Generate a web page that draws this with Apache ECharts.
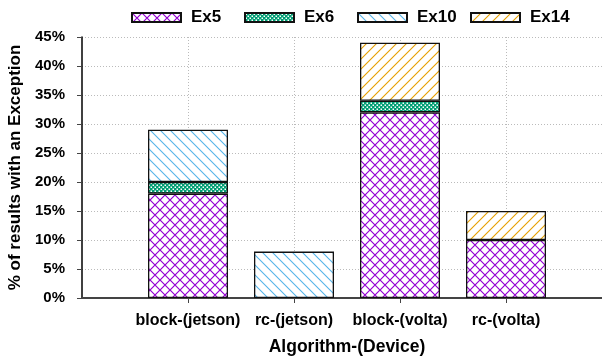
<!DOCTYPE html>
<html>
<head>
<meta charset="utf-8">
<script src="https://cdn.jsdelivr.net/npm/echarts@6/dist/echarts.min.js"></script>
<style>
  html, body { margin: 0; padding: 0; background: #fff; }
  #chart { width: 602px; height: 361px; }
</style>
</head>
<body>
<div id="chart"></div>
<script>
// Algorithm-device pairs; blank slots pad the range on both sides
const categories = ['', 'block-(jetson)', 'rc-(jetson)', 'block-(volta)', 'rc-(volta)', ''];
// Stacked exception shares in percent, one entry per slot
const ex5  = [null, 18, null, 32, 10, null];
const ex6  = [null, 2, null, 2, null, null];
const ex10 = [null, 9, 8, null, null, null];
const ex14 = [null, null, null, 10, 5, null];
const yTicks = [0, 5, 10, 15, 20, 25, 30, 35, 40, 45];

// Hatch fills drawn on small tiles
function tile(w, h, draw) {
  const c = document.createElement('canvas');
  c.width = w; c.height = h;
  const g = c.getContext('2d');
  g.fillStyle = '#fff';
  g.fillRect(0, 0, w, h);
  draw(g);
  return { image: c, repeat: 'repeat' };
}
const crossPurple = tile(10, 10, g => {
  g.strokeStyle = '#9400D3'; g.lineWidth = 1.2;
  g.beginPath();
  g.moveTo(-1, -1); g.lineTo(11, 11);
  g.moveTo(11, -1); g.lineTo(-1, 11);
  g.stroke();
});
const checkGreen = tile(4, 4, g => {
  g.fillStyle = '#009E73'; g.fillRect(0, 0, 4, 4);
  g.fillStyle = '#fff';
  g.fillRect(0.5, 0.5, 1.5, 1.5);
  g.fillRect(2.5, 2.5, 1.5, 1.5);
});
const backBlue = tile(10, 10, g => {
  g.strokeStyle = '#56B4E9'; g.lineWidth = 1.1;
  g.beginPath();
  g.moveTo(-1, -1); g.lineTo(11, 11);
  g.moveTo(-1, 9); g.lineTo(1, 11);
  g.moveTo(9, -1); g.lineTo(11, 1);
  g.stroke();
});
const slashOrange = tile(10, 10, g => {
  g.strokeStyle = '#E69F00'; g.lineWidth = 1.1;
  g.beginPath();
  g.moveTo(-1, 11); g.lineTo(11, -1);
  g.moveTo(-1, 1); g.lineTo(1, -1);
  g.moveTo(9, 11); g.lineTo(11, 9);
  g.stroke();
});

const font = 'Liberation Sans, Arial, Helvetica, sans-serif';

function barSeries(name, values, fill) {
  return {
    name: name,
    type: 'bar',
    stack: 'total',
    barWidth: 80,
    data: values.map(v => (v == null ? '-' : v)),
    itemStyle: { color: fill, borderColor: '#111', borderWidth: 1.3 },
    emphasis: { disabled: true }
  };
}

const legendLefts = [131, 244, 357, 470];
const legendNames = ['Ex5', 'Ex6', 'Ex10', 'Ex14'];
const legends = legendNames.map((n, i) => ({
  data: [n],
  left: legendLefts[i],
  top: 9,
  padding: 0,
  orient: 'horizontal',
  icon: 'rect',
  itemWidth: 49,
  itemHeight: 9,
  selectedMode: false,
  textStyle: { fontFamily: font, fontWeight: 'bold', fontSize: 17, color: '#000', padding: [0, 0, 0, 5] }
}));

const inner = (i) => i > 0 && i < categories.length - 1;

const chart = echarts.init(document.getElementById('chart'), null, { renderer: 'canvas' });
chart.setOption({
  animation: false,
  backgroundColor: '#fff',
  legend: legends,
  grid: { left: 82, top: 37, right: -10, bottom: 63, containLabel: false, outerBoundsMode: 'none' },
  xAxis: {
    type: 'category',
    data: categories,
    boundaryGap: false,
    name: 'Algorithm-(Device)',
    nameLocation: 'middle',
    nameGap: 40,
    nameTextStyle: { fontFamily: font, fontWeight: 'bold', fontSize: 17.5, color: '#000' },
    axisLine: { show: true, onZero: false, lineStyle: { color: '#444', width: 2 } },
    axisTick: { show: true, length: 5, interval: (i) => inner(i), lineStyle: { color: '#444', width: 1 } },
    axisLabel: {
      margin: 15,
      interval: 0,
      fontFamily: font, fontWeight: 'bold', fontSize: 16, color: '#000'
    },
    splitLine: { show: true, interval: (i) => inner(i), lineStyle: { color: '#bbb', type: [1, 2], width: 1 } }
  },
  yAxis: {
    type: 'value',
    min: yTicks[0],
    max: yTicks[yTicks.length - 1],
    interval: 5,
    name: '% of results with an Exception',
    nameLocation: 'middle',
    nameGap: 58,
    nameTextStyle: { fontFamily: font, fontWeight: 'bold', fontSize: 17, color: '#000' },
    axisLine: { show: true, onZero: false, lineStyle: { color: '#000', width: 1.5 } },
    axisTick: { show: true, length: 5, lineStyle: { color: '#444', width: 1 } },
    axisLabel: {
      margin: 17,
      fontFamily: font, fontWeight: 'bold', fontSize: 15, color: '#000',
      formatter: '{value}%'
    },
    splitLine: { show: true, lineStyle: { color: '#bbb', type: [1, 2], width: 1 } }
  },
  series: [
    barSeries('Ex5', ex5, crossPurple),
    barSeries('Ex6', ex6, checkGreen),
    barSeries('Ex10', ex10, backBlue),
    barSeries('Ex14', ex14, slashOrange)
  ]
});
</script>
</body>
</html>
